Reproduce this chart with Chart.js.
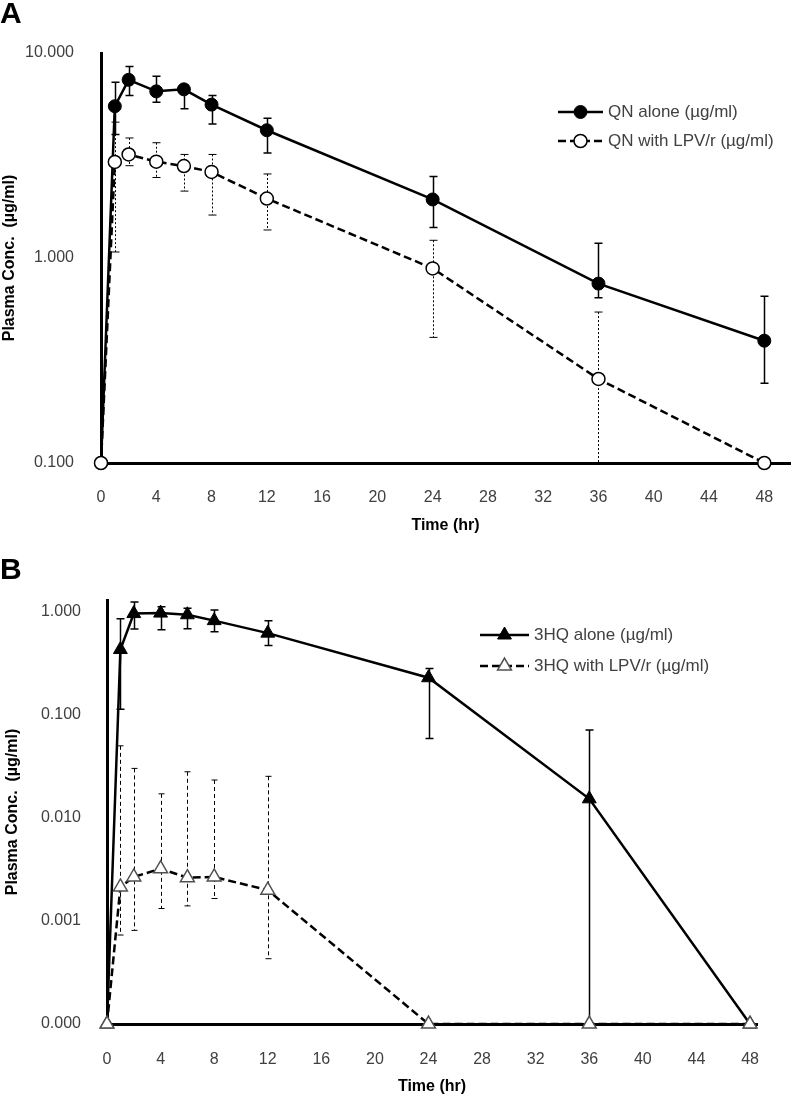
<!DOCTYPE html>
<html>
<head>
<meta charset="utf-8">
<script src="https://cdn.jsdelivr.net/npm/chart.js@4.4.1/dist/chart.umd.min.js"></script>
<style>
  body { margin: 0; background: #fff; }
  #wrap { position: relative; width: 798px; height: 1097px; }
  canvas { position: absolute; left: 0; }
  .tag { position: absolute; left: 0; z-index: 2; font: bold 30px "Liberation Sans", Arial, sans-serif; line-height: 30px; }
</style>
</head>
<body>
<div id="wrap">
  <div class="tag" style="top:-2px">A</div>
  <canvas id="chartA" width="798" height="540" style="top:0"></canvas>
  <div class="tag" style="top:554px">B</div>
  <canvas id="chartB" width="798" height="557" style="top:540px"></canvas>
</div>
<script>
var times = [0, 1, 2, 4, 6, 8, 12, 24, 36, 48];
var tickX = [0, 4, 8, 12, 16, 20, 24, 28, 32, 36, 40, 44, 48];

// A: quinine
var qnAlone   = [0.1, 5.5, 7.4, 6.5, 6.65, 5.6, 4.2, 1.93, 0.75, 0.395];
var qnAloneHi = [null, 7.2, 8.6, 7.7, 7.0, 6.2, 4.8, 2.5, 1.18, 0.65];
var qnAloneLo = [null, 4.0, 6.2, 5.75, 5.35, 4.5, 3.25, 1.41, 0.64, 0.245];
var qnLpv     = [0.1, 2.94, 3.2, 2.95, 2.81, 2.63, 1.95, 0.89, 0.257, 0.1];
var qnLpvHi   = [null, 4.6, 3.85, 3.65, 3.2, 3.2, 2.57, 1.22, 0.545, null];
var qnLpvLo   = [null, 1.07, 2.82, 2.47, 2.12, 1.62, 1.37, 0.41, 0.1, null];
var tickA = [0.1, 1, 10];

// B: 3-hydroxyquinine
var hqAlone   = [0.0001, 0.43, 0.96, 0.97, 0.935, 0.82, 0.62, 0.229, 0.0153, 0.0001];
var hqAloneHi = [null, 0.855, 1.24, 1.12, 1.08, 1.04, 0.82, 0.281, 0.0713, null];
var hqAloneLo = [null, 0.113, 0.68, 0.67, 0.685, 0.64, 0.47, 0.059, 0.0001, null];
var hqLpv     = [0.0001, 0.00214, 0.00267, 0.00321, 0.00263, 0.00267, 0.00199, 0.0001, 0.0001, 0.0001];
var hqLpvHi   = [null, 0.05, 0.0302, 0.0171, 0.028, 0.0233, 0.0253, null, null, null];
var hqLpvLo   = [null, 0.00073, 0.00081, 0.00132, 0.0014, 0.00165, 0.00043, null, null, null];
var tickB = [0.0001, 0.001, 0.01, 0.1, 1];

Chart.defaults.font.family = '"Liberation Sans", Arial, sans-serif';
Chart.defaults.color = '#404040';

function pts(ys) {
  return times.map(function (t, i) { return { x: t, y: ys[i] }; });
}

function drawMarker(ctx, ds, x, y) {
  var r = ds.pointRadius;
  ctx.beginPath();
  if (ds.pointStyle === 'triangle') {
    var a = 0;
    for (var k = 0; k < 3; k++) {
      var px = x + Math.sin(a) * r, py = y - Math.cos(a) * r;
      if (k === 0) ctx.moveTo(px, py); else ctx.lineTo(px, py);
      a += Math.PI * 2 / 3;
    }
    ctx.closePath();
  } else {
    ctx.arc(x, y, r, 0, Math.PI * 2);
  }
  ctx.fillStyle = ds.pointBackgroundColor;
  ctx.fill();
  ctx.lineWidth = ds.pointBorderWidth;
  ctx.strokeStyle = ds.pointBorderColor;
  ctx.stroke();
}

function errorBarPlugin(sets) {
  return {
    id: 'errorBars',
    beforeDatasetsDraw: function (chart) {
      var ctx = chart.ctx, xs = chart.scales.x, ys = chart.scales.y;
      sets.forEach(function (set) {
        ctx.save();
        ctx.strokeStyle = '#000';
        ctx.lineWidth = set.width;
        times.forEach(function (t, i) {
          if (set.hi[i] == null) return;
          var px = Math.round(xs.getPixelForValue(t)) + 0.5;
          var top = ys.getPixelForValue(set.hi[i]);
          var bot = ys.getPixelForValue(set.lo[i]);
          ctx.setLineDash(set.dash);
          ctx.beginPath();
          ctx.moveTo(px, top);
          ctx.lineTo(px, bot);
          ctx.stroke();
          ctx.setLineDash([]);
          ctx.beginPath();
          ctx.moveTo(px - set.cap, top); ctx.lineTo(px + set.cap, top);
          ctx.moveTo(px - set.cap, bot); ctx.lineTo(px + set.cap, bot);
          ctx.stroke();
        });
        ctx.restore();
      });
    }
  };
}

function legendPlugin(geo) {
  return {
    id: 'sideLegend',
    afterDraw: function (chart) {
      var ctx = chart.ctx;
      chart.data.datasets.forEach(function (ds, i) {
        var y = geo.y[i];
        ctx.save();
        ctx.strokeStyle = '#000';
        ctx.lineWidth = ds.borderWidth;
        ctx.setLineDash(ds.borderDash || []);
        ctx.beginPath();
        ctx.moveTo(geo.x0, y);
        ctx.lineTo(geo.x1, y);
        ctx.stroke();
        ctx.setLineDash([]);
        drawMarker(ctx, ds, (geo.x0 + geo.x1) / 2, y);
        ctx.fillStyle = '#404040';
        ctx.font = '17px "Liberation Sans", Arial, sans-serif';
        ctx.textBaseline = 'middle';
        ctx.fillText(ds.label, geo.tx, y);
        ctx.restore();
      });
    }
  };
}

function makeScales(o) {
  return {
    x: {
      type: 'linear', min: 0, max: o.xMax,
      grid: { display: false },
      border: { display: true, color: '#000', width: 3 },
      ticks: { padding: o.xPad, autoSkip: false, maxRotation: 0, font: { size: 16 } },
      afterBuildTicks: function (s) { s.ticks = tickX.map(function (v) { return { value: v }; }); },
      afterFit: function (s) { s.height = o.xHeight; },
      title: { display: true, text: 'Time (hr)', color: '#000', font: { size: 16, weight: 'bold' }, padding: { top: 0, bottom: o.xTitlePad } }
    },
    y: {
      type: 'logarithmic', min: o.yMin, max: o.yMax,
      grid: { display: false },
      border: { display: true, color: '#000', width: 3 },
      ticks: { padding: o.yPad, font: { size: 16 }, callback: function (v) { return Number(v).toFixed(3); } },
      afterBuildTicks: function (s) { s.ticks = o.yTicks.map(function (v) { return { value: v }; }); },
      afterFit: function (s) { s.width = o.yWidth; },
      title: { display: true, text: 'Plasma Conc.  (µg/ml)', color: '#000', font: { size: 16, weight: 'bold' }, padding: { top: o.yTitlePad, bottom: 0 } }
    }
  };
}

var common = { responsive: false, animation: false, events: [] };

new Chart(document.getElementById('chartA').getContext('2d'), {
  type: 'line',
  data: {
    datasets: [{
      label: 'QN alone (µg/ml)',
      data: pts(qnAlone),
      borderColor: '#000', borderWidth: 2.5, tension: 0,
      pointStyle: 'circle', pointRadius: 6.5,
      pointBackgroundColor: '#000', pointBorderColor: '#000', pointBorderWidth: 1,
      order: 1, clip: false
    }, {
      label: 'QN with LPV/r (µg/ml)',
      data: pts(qnLpv),
      borderColor: '#000', borderWidth: 2.5, borderDash: [8, 4], tension: 0,
      pointStyle: 'circle', pointRadius: 6.5,
      pointBackgroundColor: '#fff', pointBorderColor: '#000', pointBorderWidth: 1.5,
      order: 0, clip: false
    }]
  },
  options: Object.assign({}, common, {
    layout: { padding: { top: 53, left: 0, right: 0, bottom: 0 } },
    plugins: { legend: { display: false }, tooltip: { enabled: false } },
    scales: makeScales({ xMax: 49.86, xPad: 17, xHeight: 77, xTitlePad: 5, yMin: 0.1, yMax: 10, yTicks: tickA, yPad: 19, yWidth: 101, yTitlePad: 0 })
  }),
  plugins: [
    errorBarPlugin([
      { hi: qnAloneHi, lo: qnAloneLo, width: 1.5, dash: [], cap: 4 },
      { hi: qnLpvHi, lo: qnLpvLo, width: 1, dash: [2, 2], cap: 4 }
    ]),
    legendPlugin({ x0: 558, x1: 603, tx: 608, y: [112, 141] })
  ]
});

new Chart(document.getElementById('chartB').getContext('2d'), {
  type: 'line',
  data: {
    datasets: [{
      label: '3HQ alone (µg/ml)',
      data: pts(hqAlone),
      borderColor: '#000', borderWidth: 2.5, tension: 0,
      pointStyle: 'triangle', pointRadius: 8,
      pointBackgroundColor: '#000', pointBorderColor: '#000', pointBorderWidth: 1,
      order: 1, clip: false
    }, {
      label: '3HQ with LPV/r (µg/ml)',
      data: pts(hqLpv),
      borderColor: '#000', borderWidth: 2.5, borderDash: [8, 4], tension: 0,
      pointStyle: 'triangle', pointRadius: 8,
      pointBackgroundColor: '#fff', pointBorderColor: '#505050', pointBorderWidth: 1.5,
      order: 0, clip: false
    }]
  },
  options: Object.assign({}, common, {
    layout: { padding: { top: 60, left: 0, right: 41, bottom: 0 } },
    plugins: { legend: { display: false }, tooltip: { enabled: false } },
    scales: makeScales({ xMax: 48.52, xPad: 18, xHeight: 73, xTitlePad: 1, yMin: 0.0001, yMax: 1.3, yTicks: tickB, yPad: 18, yWidth: 107, yTitlePad: 3 })
  }),
  plugins: [
    errorBarPlugin([
      { hi: hqAloneHi, lo: hqAloneLo, width: 1.5, dash: [], cap: 4 },
      { hi: hqLpvHi, lo: hqLpvLo, width: 1, dash: [4, 3], cap: 3 }
    ]),
    legendPlugin({ x0: 480, x1: 529, tx: 534, y: [95, 126] })
  ]
});
</script>
</body>
</html>
